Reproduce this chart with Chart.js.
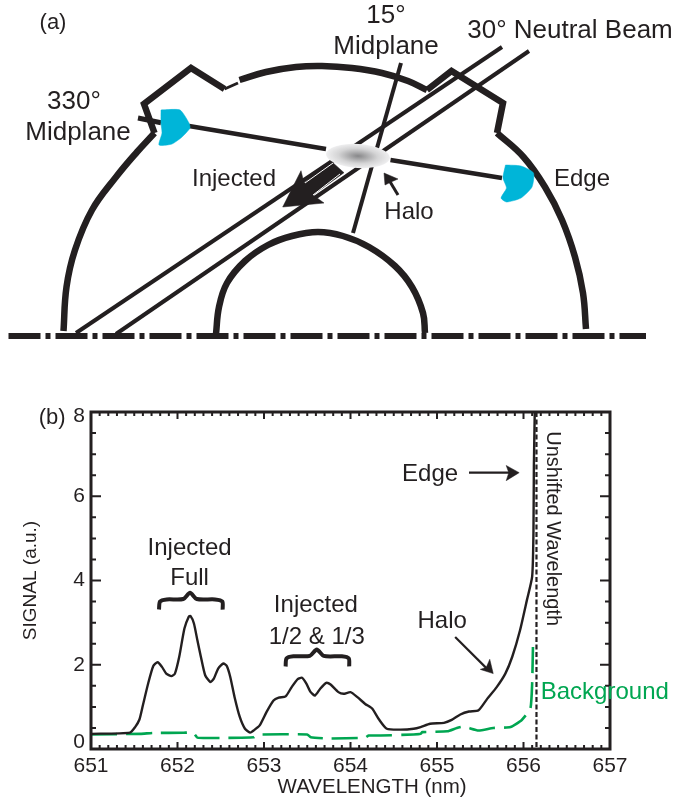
<!DOCTYPE html>
<html>
<head>
<meta charset="utf-8">
<title>Neutral beam views and spectrum</title>
<script src="https://cdn.jsdelivr.net/npm/chart.js@4"></script>
<style>
  html, body { margin: 0; padding: 0; background: #fff; }
  #page { position: relative; width: 673px; height: 804px; overflow: hidden; }
  canvas { position: absolute; left: 0; }
  #diagram { top: 0; }
  #spectrum { top: 380px; }
</style>
</head>
<body>
<div id="page">
  <canvas id="diagram" width="673" height="380"></canvas>
  <canvas id="spectrum" width="673" height="424"></canvas>
</div>
<script>
// ---- panel (b) data ----
const signalWave = [651, 651.45, 651.51, 651.56, 651.6, 651.66, 651.72, 651.77, 651.82, 651.87, 651.93, 651.97,
  652.02, 652.08, 652.13, 652.15, 652.19, 652.23, 652.27, 652.32, 652.38, 652.42, 652.47, 652.53, 652.57, 652.61,
  652.66, 652.72, 652.78, 652.84, 652.88, 652.95, 653.03, 653.11, 653.17, 653.25, 653.32, 653.39, 653.44, 653.49,
  653.54, 653.59, 653.65, 653.72, 653.77, 653.86, 653.92, 654, 654.08, 654.17, 654.25, 654.33, 654.42, 654.58,
  654.73, 654.81, 654.92, 655.08, 655.17, 655.27, 655.37, 655.48, 655.58, 655.69, 655.79, 655.87, 655.96, 656.04,
  656.1, 656.115, 656.12, 656.13];
const signalValues = [0.36, 0.39, 0.52, 0.7, 1.04, 1.55, 1.97, 2.06, 1.95, 1.79, 1.73, 1.79,
  2.19, 2.86, 3.14, 3.16, 2.98, 2.58, 2.19, 1.75, 1.59, 1.67, 1.91, 2.03, 1.97, 1.71,
  1.23, 0.76, 0.48, 0.39, 0.44, 0.56, 0.88, 1.15, 1.22, 1.25, 1.47, 1.66, 1.69, 1.55,
  1.35, 1.27, 1.43, 1.57, 1.53, 1.35, 1.31, 1.35, 1.23, 1.07, 0.96, 0.7, 0.48, 0.46,
  0.48, 0.52, 0.6, 0.62, 0.69, 0.82, 0.89, 0.92, 1.19, 1.47, 1.79, 2.19, 2.82, 3.54,
  4.09, 5.12, 6.71, 7.98];
const backgroundWave = [651, 651.57, 651.72, 652.07, 652.18, 652.23, 652.38, 652.88, 652.92, 653.5, 653.54, 653.73,
  654.17, 654.21, 654.35, 654.73, 654.81, 654.83, 655.12, 655.23, 655.31, 655.48, 655.65, 655.85, 655.98, 656.08,
  656.1, 656.11];
const backgroundValues = [0.345, 0.36, 0.38, 0.385, 0.39, 0.27, 0.26, 0.28, 0.34, 0.345, 0.28, 0.25,
  0.27, 0.32, 0.32, 0.345, 0.36, 0.4, 0.42, 0.5, 0.53, 0.44, 0.5, 0.52, 0.69, 0.96,
  1.55, 2.5];
const unshiftedWave = [656.15, 656.15];
const unshiftedValues = [0.05, 8];

const xRange = [651, 657];
const yRange = [0, 8];

// braces and arrows inside the plot, in wavelength / signal
const braceFull = [[651.786, 3.31], [651.798, 3.5], [651.875, 3.55], [652.067, 3.56], [652.145, 3.71], [652.222, 3.56], [652.434, 3.55], [652.518, 3.5], [652.522, 3.31]];
const braceFrac = [[653.25, 1.96], [653.26, 2.15], [653.34, 2.2], [653.53, 2.21], [653.61, 2.36], [653.69, 2.21], [653.9, 2.2], [653.98, 2.15], [653.985, 1.96]];
const edgeArrow = [[655.37, 6.56], [655.85, 6.56]];
const edgeHead = [[655.95, 6.56], [655.8, 6.73], [655.83, 6.56], [655.8, 6.37], [655.95, 6.56]];
const haloArrow = [[655.21, 2.66], [655.6, 1.86]];
const haloHead = [[655.65, 1.79], [655.5, 1.89], [655.57, 1.94], [655.61, 2.13], [655.65, 1.79]];

// [text, x, y, size, colour, rotation]
const spectrumLabels = [
  ['(b)', 650.55, 7.87, 22],
  ['Edge', 654.92, 6.53, 24],
  ['Injected', 652.14, 4.76, 24],
  ['Full', 652.14, 4.05, 24],
  ['Injected', 653.6, 3.4, 24],
  ['1/2 & 1/3', 653.61, 2.66, 24],
  ['Halo', 655.06, 3.02, 24],
  ['Background', 656.94, 1.35, 24, '#00a651'],
  ['Unshifted Wavelength', 656.33, 5.23, 20, '#231f20', Math.PI / 2],
  ['WAVELENGTH (nm)', 654.25, -0.92, 20.5]
];
const yLabelShift = { 0: -7, 8: 4 };

// ---- panel (a) data, in picture units (y grows downward) ----
const arcLeft = [[63.5, 331], [66.5, 287], [75, 250], [92, 210], [116, 177], [137, 152], [154.5, 133]];
const crownLeft = [[154.5, 133], [144, 104], [191, 68], [224.5, 89]];
const wallJoin = [[224.5, 89], [238, 83]];
const arcTop = [[239.5, 80], [266, 72], [296, 67], [322, 66], [352, 68], [382, 73], [408, 81], [427, 90]];
const crownRight = [[427, 90], [451.5, 71], [503, 103], [497, 133]];
const arcRight = [[497, 133], [523.5, 157], [545, 187], [562, 220], [575, 257], [583, 293], [586, 329]];
const innerWall = [[216, 334], [219, 307], [227, 283], [245, 261], [268, 245], [292, 236], [318, 232], [343, 236], [369, 247], [395, 266], [412, 287], [423, 313], [425, 333]];
const midline = [[8.5, 336], [646, 336]];
const beamUpper = [[502, 47], [76, 333]];
const beamLower = [[529, 51], [116, 334]];
const view15 = [[401, 63], [353, 233]];
const viewStub = [[138, 118], [161, 122.7]];
const viewLeft = [[189, 126], [326, 149]];
const viewRight = [[390.5, 160], [502, 178]];
const detectorLeft = [[161, 110], [180, 110], [189, 123], [190, 128], [182, 137], [172, 144], [159, 145], [162, 133], [161, 123], [161, 110]];
const detectorRight = [[505.5, 165], [521, 166], [533.5, 173], [532, 187], [521, 198], [506.5, 202], [501, 198], [506.5, 188], [503, 178], [505.5, 165]];
const injectedArrow = [[330.7, 160.7], [344, 172.7], [313, 195], [324, 203], [282.7, 207], [301, 170.7], [304, 183], [330.7, 160.7]];
const arrowStripeA = [[333, 163], [305, 183]];
const arrowStripeB = [[340, 174], [313, 195]];
const haloPointer = [[398, 195], [389, 180]];
const haloPointerHead = [[384, 173], [398, 179], [391, 182], [385, 185], [384, 173]];
const spot = [[358, 156]];

const diagramLabels = [
  ['(a)', 53, 23, 22],
  ['15°', 386, 16, 26],
  ['Midplane', 386, 47, 26],
  ['30° Neutral Beam', 570, 31, 26],
  ['330°', 74, 102, 26],
  ['Midplane', 78, 133, 26],
  ['Injected', 234, 179, 24],
  ['Halo', 409, 212, 24],
  ['Edge', 582, 179, 24]
];

const ink = '#231f20';
const green = '#00a651';
const cyan = '#00b5d8';
const tickFont = { family: 'Liberation Sans', size: 21 };

const toPoints = (xs, ys) => xs.map((x, i) => ({ x, y: ys[i] }));
const pairs = list => list.map(p => ({ x: p[0], y: p[1] }));

function line(data, color, width, extra) {
  return Object.assign({
    data: pairs(data), showLine: true, borderColor: color, borderWidth: width,
    pointRadius: 0, fill: false, tension: 0, borderJoinStyle: 'miter'
  }, extra || {});
}

function shape(data, color, extra) {
  return line(data, color, 0.5, Object.assign({ fill: 'shape', backgroundColor: color }, extra || {}));
}

// writes a list of labels at their data positions
function drawLabels(chart, labels) {
  const ctx = chart.ctx;
  ctx.save();
  ctx.textAlign = 'center';
  ctx.textBaseline = 'middle';
  labels.forEach(l => {
    ctx.save();
    ctx.translate(chart.scales.x.getPixelForValue(l[1]), chart.scales.y.getPixelForValue(l[2]));
    if (l[5]) ctx.rotate(l[5]);
    ctx.font = l[3] + 'px "Liberation Sans"';
    ctx.fillStyle = l[4] || ink;
    ctx.fillText(l[0], 0, 0);
    ctx.restore();
  });
  ctx.restore();
}

// ---- panel (a) ----
const spotImage = document.createElement('canvas');
spotImage.width = 66;
spotImage.height = 26;
const spotCtx = spotImage.getContext('2d');
spotCtx.translate(33, 13);
spotCtx.rotate(0.06);
spotCtx.scale(1, 12 / 32);
const spotFill = spotCtx.createRadialGradient(0, 0, 1, 0, 0, 32);
spotFill.addColorStop(0, '#8b8b8d');
spotFill.addColorStop(0.6, '#d4d4d5');
spotFill.addColorStop(1, '#efeff0');
spotCtx.fillStyle = spotFill;
spotCtx.beginPath();
spotCtx.arc(0, 0, 32, 0, Math.PI * 2);
spotCtx.fill();

new Chart(document.getElementById('diagram'), {
  type: 'scatter',
  data: {
    datasets: [
      // first in the list is drawn on top
      { data: pairs(spot), pointStyle: spotImage, pointRadius: 30, showLine: false },
      line(arrowStripeA, '#ffffff', 1),
      line(arrowStripeB, '#ffffff', 1),
      shape(injectedArrow, ink),
      line(haloPointer, ink, 3),
      shape(haloPointerHead, ink),
      shape(detectorLeft, cyan, { tension: 0.2 }),
      shape(detectorRight, cyan, { tension: 0.2 }),
      line(viewStub, ink, 5),
      line(viewLeft, ink, 4.5),
      line(viewRight, ink, 4.5),
      line(view15, ink, 4),
      line(beamUpper, ink, 4),
      line(beamLower, ink, 4),
      line(arcLeft, ink, 6.5, { tension: 0.4 }),
      line(crownLeft, ink, 6.5),
      line(wallJoin, ink, 3),
      line(arcTop, ink, 6.5, { tension: 0.4 }),
      line(crownRight, ink, 6.5),
      line(arcRight, ink, 6.5, { tension: 0.4 }),
      line(innerWall, ink, 6.5, { tension: 0.4 }),
      line(midline, ink, 6, { borderDash: [32, 5, 5, 5] })
    ]
  },
  options: {
    responsive: false,
    animation: false,
    layout: { padding: 0, autoPadding: false },
    plugins: { legend: { display: false }, tooltip: { enabled: false } },
    scales: {
      x: { type: 'linear', min: 0, max: 673, display: false },
      y: { type: 'linear', min: 0, max: 380, reverse: true, display: false }
    }
  },
  plugins: [{
    id: 'diagramText',
    afterDatasetsDraw(chart) { drawLabels(chart, diagramLabels); }
  }]
});

// ---- panel (b) ----
const spectrumDecor = {
  id: 'spectrumDecor',
  afterDatasetsDraw(chart) {
    const ctx = chart.ctx;
    const a = chart.chartArea;
    const xs = chart.scales.x;
    const ys = chart.scales.y;
    ctx.save();
    ctx.strokeStyle = ink;
    ctx.lineWidth = 3;
    ctx.strokeRect(a.left, a.top, a.right - a.left, a.bottom - a.top);

    // inward ticks on all four sides
    ctx.lineWidth = 2;
    ctx.beginPath();
    for (let i = 0; i <= 60; i++) {
      const px = xs.getPixelForValue(xRange[0] + i / 10);
      const len = i % 10 === 0 ? 7 : 4;
      ctx.moveTo(px, a.bottom); ctx.lineTo(px, a.bottom - len);
      ctx.moveTo(px, a.top); ctx.lineTo(px, a.top + len);
    }
    for (let i = 0; i <= 16; i++) {
      const py = ys.getPixelForValue(i / 2);
      const len = i % 4 === 0 ? 10 : 5;
      ctx.moveTo(a.left, py); ctx.lineTo(a.left + len, py);
      ctx.moveTo(a.right, py); ctx.lineTo(a.right - len, py);
    }
    ctx.stroke();

    // the end labels sit off their ticks in the original
    ctx.font = tickFont.size + 'px "Liberation Sans"';
    ctx.fillStyle = ink;
    ctx.textAlign = 'right';
    ctx.textBaseline = 'middle';
    Object.keys(yLabelShift).forEach(v => {
      ctx.fillText(v, a.left - 6, ys.getPixelForValue(Number(v)) + yLabelShift[v]);
    });
    ctx.restore();

    drawLabels(chart, spectrumLabels);
  }
};

new Chart(document.getElementById('spectrum'), {
  type: 'scatter',
  data: {
    datasets: [
      { label: 'Edge and Halo', data: toPoints(signalWave, signalValues), showLine: true, borderColor: ink, borderWidth: 2.4, pointRadius: 0, tension: 0.2 },
      { label: 'Unshifted', data: toPoints(unshiftedWave, unshiftedValues), showLine: true, borderColor: ink, borderWidth: 2.2, borderDash: [5, 2.5], pointRadius: 0 },
      { label: 'Background', data: toPoints(backgroundWave, backgroundValues), showLine: true, borderColor: green, borderWidth: 2.6, borderDash: [26, 9], pointRadius: 0, tension: 0.15 },
      line(braceFull, ink, 4, { tension: 0.25 }),
      line(braceFrac, ink, 4, { tension: 0.25 }),
      line(edgeArrow, ink, 2.2),
      shape(edgeHead, ink),
      line(haloArrow, ink, 2.2),
      shape(haloHead, ink)
    ]
  },
  options: {
    responsive: false,
    animation: false,
    layout: { padding: { top: 32, right: 63 } },
    plugins: { legend: { display: false }, tooltip: { enabled: false } },
    scales: {
      x: {
        type: 'linear',
        min: xRange[0],
        max: xRange[1],
        afterFit: s => { s.height = 55; },
        grid: { display: false, drawTicks: false },
        border: { display: false },
        ticks: { stepSize: 1, autoSkip: false, maxRotation: 0, padding: 5, color: ink, font: tickFont }
      },
      y: {
        type: 'linear',
        min: yRange[0],
        max: yRange[1],
        afterFit: s => { s.width = 91; },
        grid: { display: false, drawTicks: false },
        border: { display: false },
        title: { display: true, text: 'SIGNAL (a.u.)', color: ink, padding: { top: 19, bottom: 0 }, font: { family: 'Liberation Sans', size: 19 } },
        ticks: {
          stepSize: 2,
          autoSkip: false,
          padding: 6,
          color: ink,
          font: tickFont,
          callback: v => (v in yLabelShift ? '' : String(v))
        }
      }
    }
  },
  plugins: [spectrumDecor]
});
</script>
</body>
</html>
